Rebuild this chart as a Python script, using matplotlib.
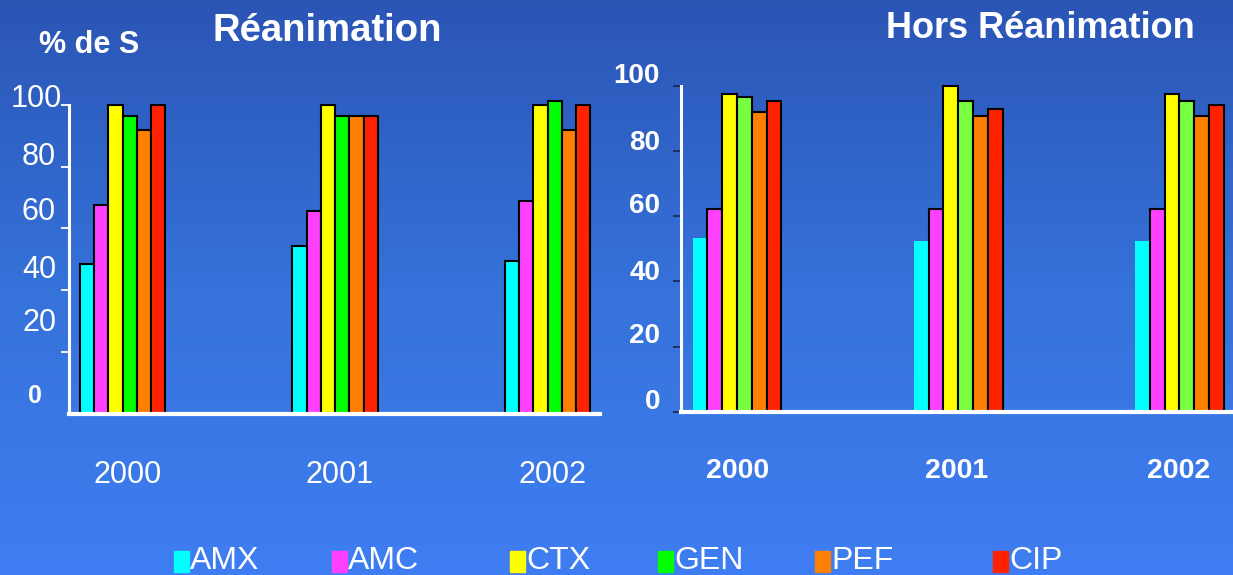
import numpy as np
import matplotlib
matplotlib.use('Agg')
import matplotlib.pyplot as plt
from matplotlib.colors import LinearSegmentedColormap
from matplotlib.patches import Rectangle

plt.rcParams['font.family'] = ['Liberation Sans', 'DejaVu Sans']

annees = ['2000', '2001', '2002']
antibios = ['AMX', 'AMC', 'CTX', 'GEN', 'PEF', 'CIP']

# % de souches sensibles, en réanimation
rea_amx = [48.5, 54.3, 49.5]
rea_amc = [67.7, 65.6, 69.0]
rea_ctx = [100, 100, 100]
rea_gen = [96.4, 96.4, 101.3]
rea_pef = [91.8, 96.4, 91.8]
rea_cip = [100, 96.4, 100]

# % de souches sensibles, hors réanimation
hors_amx = [53.2, 52.3, 52.3]
hors_amc = [62.3, 62.3, 62.3]
hors_ctx = [97.6, 100, 97.6]
hors_gen = [96.5, 95.4, 95.4]
hors_pef = [92.0, 90.8, 90.8]
hors_cip = [95.4, 93.0, 94.3]

couleurs_rea = ['#00ffff', '#ff40ff', '#ffff00', '#00ff00', '#ff7f00', '#ff2200']
couleurs_hors = ['#00ffff', '#ff40ff', '#ffff00', '#77ff40', '#ff7f00', '#ff2200']

W, H = 1233, 575
fig = plt.figure(figsize=(W / 100, H / 100), dpi=100)


def fx(px):
    return px / W


def fy(py):
    return 1 - py / H


# fond dégradé bleu
fond = fig.add_axes([0, 0, 1, 1], zorder=-10)
cmap = LinearSegmentedColormap.from_list('fond', ['#2b55b5', '#3572d9', '#3f7ef2'])
fond.imshow(np.linspace(0, 1, 256).reshape(-1, 1), aspect='auto', cmap=cmap,
            extent=[0, 1, 0, 1])
fond.axis('off')


def dessiner(ax, series, couleurs, bord_amx, tick_col):
    x = np.arange(len(annees))
    larg = 0.067
    for i, (vals, c) in enumerate(zip(series, couleurs)):
        ec = 'black' if (i > 0 or bord_amx) else 'none'
        ax.bar(x + (i - 2.5) * larg, vals, width=larg, color=c, edgecolor=ec,
               linewidth=1.5, clip_on=False, zorder=3)
    ax.set_ylim(0, 100)
    ax.set_facecolor('none')
    for s in ['top', 'right']:
        ax.spines[s].set_visible(False)
    for s in ['left', 'bottom']:
        ax.spines[s].set_color('white')
    ax.spines['left'].set_linewidth(2.2)
    ax.spines['bottom'].set_linewidth(3)
    ax.spines['bottom'].set_zorder(4)
    ax.set_xticks([])
    ax.tick_params(axis='y', colors=tick_col, length=6, width=1.3,
                   labelleft=False)


# Réanimation
ax1 = fig.add_axes([fx(69), fy(414), fx(600 - 69), (414 - 104.7) / H])
dessiner(ax1, [rea_amx, rea_amc, rea_ctx, rea_gen, rea_pef, rea_cip],
         couleurs_rea, True, 'white')
ax1.set_xlim(-0.252, 2.247)
ax1.set_yticks([20, 40, 60, 80, 100])

# Hors réanimation
ax2 = fig.add_axes([fx(681), fy(411.7), fx(W - 681), (411.7 - 86) / H])
dessiner(ax2, [hors_amx, hors_amc, hors_ctx, hors_gen, hors_pef, hors_cip],
         couleurs_hors, False, '#1a2a5a')
ax2.set_xlim(-0.253, 2.242)
ax2.set_yticks([0, 20, 40, 60, 80, 100])

# graduations
ticks_g = [(62, 99, '100'), (56, 157, '80'), (56, 212, '60'), (56, 270, '40'), (56, 323, '20')]
for x, y, t in ticks_g:
    fig.text(fx(x), fy(y), t, color='white', fontsize=22, ha='right', va='center')
fig.text(fx(35), fy(396), '0', color='white', fontsize=18, fontweight='bold',
         ha='center', va='center')

ticks_d = [(76, '100'), (143, '80'), (206, '60'), (273, '40'), (336, '20'), (402, '0')]
for y, t in ticks_d:
    fig.text(fx(660), fy(y), t, color='white', fontsize=20, fontweight='bold',
             ha='right', va='center')

# années
for x, t in zip([128, 340, 553], annees):
    fig.text(fx(x), fy(475), t, color='white', fontsize=22, ha='center', va='center')
for x, t in zip([738, 957, 1179], annees):
    fig.text(fx(x), fy(471), t, color='white', fontsize=20.5, fontweight='bold',
             ha='center', va='center')

# titres
fig.text(fx(327), fy(31), 'Réanimation', color='white', fontsize=27.5,
         fontweight='bold', ha='center', va='center')
fig.text(fx(1040), fy(29), 'Hors Réanimation', color='white', fontsize=26,
         fontweight='bold', ha='center', va='center')
fig.text(fx(89), fy(45), '% de S', color='white', fontsize=22,
         fontweight='bold', ha='center', va='center')

# légende
leg_x = [174, 332, 510, 658, 815, 993]
for x, nom, c in zip(leg_x, antibios, couleurs_rea):
    fig.patches.append(Rectangle((fx(x), fy(572)), fx(15), 21 / H, color=c,
                                 transform=fig.transFigure, figure=fig))
    fig.text(fx(x + 16), fy(561), nom, color='white', fontsize=23,
             ha='left', va='center')

fig.savefig('out.png', dpi=100)
